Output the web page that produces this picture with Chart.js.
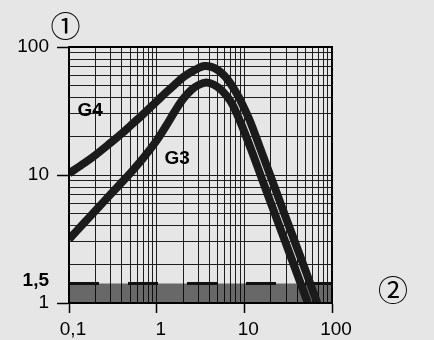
<!DOCTYPE html>
<html lang="en">
<head>
  <meta charset="UTF-8">
  <title>G3 / G4</title>
  <script src="https://cdn.jsdelivr.net/npm/chart.js"></script>
  <style>
    body {
      margin: 0;
      padding: 0;
      background: #e6e6e6;
    }
    #wrap {
      width: 434px;
      height: 340px;
      position: relative;
    }
  </style>
</head>
<body>

<div id="wrap">
  <canvas id="curveChart"></canvas>
</div>

<script>
  // curve G4
  const g4X = [0.1, 0.15, 0.2, 0.3, 0.4, 0.5, 0.7, 1, 1.3, 1.6, 2, 2.5, 3, 3.5, 4.2, 5, 6, 7, 8, 9, 11.5, 15, 20, 30, 40, 50, 68];
  const g4Y = [10.3, 12.4, 14.3, 17.9, 21.1, 24.2, 29.8, 37.6, 44.6, 50.7, 58, 64.1, 68.5, 71, 70, 66, 59, 51.5, 44.5, 38.4, 26.8, 16.5, 9.7, 4.57, 2.69, 1.78, 1];

  // curve G3
  const g3X = [0.1, 0.15, 0.2, 0.3, 0.4, 0.5, 0.7, 1, 1.3, 1.6, 2, 2.5, 3, 3.7, 4.5, 5.5, 7, 9, 12, 16, 22, 30, 40, 53];
  const g3Y = [3.15, 4.25, 5.26, 7.1, 8.77, 10.35, 13.5, 18.6, 24.6, 31.2, 39.2, 46.3, 50.5, 52.8, 50.7, 45.9, 37.5, 26, 15.7, 9.2, 5.1, 2.88, 1.69, 1];

  // limit band at the bottom
  const bandX = [0.1, 100];
  const bandY = [1.42, 1.42];

  // axes
  const xMajor = [0.1, 1, 10, 100];
  const xLabels = ['0,1', '1', '10', '100'];
  const yMajor = [1, 10, 100];
  const yLabels = ['1', '10', '100'];
  const yLimit = 1.5;
  const yLimitLabel = '1,5';

  const curveNames = ['G4', 'G3'];
  const nameAt = [[0.174, 32], [1.71, 13.3]];

  const INK = '#1b1b1b';
  const FONT = '"Liberation Sans", Arial, sans-serif';

  function toPoints(xs, ys) {
    return xs.map((x, i) => ({ x: x, y: ys[i] }));
  }

  // log grid: 1..9 in every decade
  function logTicks(lo, hi) {
    const out = [];
    for (let d = lo; d < hi * 0.999; d *= 10) {
      for (let m = 1; m <= 9; m++) out.push(+(m * d).toPrecision(3));
    }
    out.push(hi);
    return out;
  }

  function isIn(list, v) {
    return list.some(t => Math.abs(t - v) < 1e-9);
  }

  const extras = {
    id: 'extras',
    afterDraw(chart) {
      const { ctx, chartArea, scales } = chart;
      const xs = scales.x, ys = scales.y;
      ctx.save();
      // frame
      ctx.strokeStyle = '#000';
      ctx.lineWidth = 2;
      ctx.strokeRect(chartArea.left, chartArea.top, chartArea.right - chartArea.left, chartArea.bottom - chartArea.top);

      // curve names
      ctx.fillStyle = '#000';
      ctx.font = 'bold 19px ' + FONT;
      ctx.textAlign = 'center';
      ctx.textBaseline = 'middle';
      curveNames.forEach((n, i) => {
        ctx.fillText(n, xs.getPixelForValue(nameAt[i][0]), ys.getPixelForValue(nameAt[i][1]));
      });

      // axis markers
      ctx.font = '30px "Noto Sans CJK JP", "DejaVu Sans"';
      ctx.fillText('①', chartArea.left - 3.5, chartArea.top - 21);
      ctx.fillText('②', chartArea.right + 61, ys.getPixelForValue(bandY[0]) + 6);
      ctx.restore();
    }
  };

  const ctx = document.getElementById('curveChart').getContext('2d');

  new Chart(ctx, {
    type: 'line',
    data: {
      datasets: [
        {
          label: 'G4',
          data: toPoints(g4X, g4Y),
          borderColor: INK,
          borderWidth: 8,
          pointRadius: 0,
          tension: 0.35,
          borderCapStyle: 'butt',
          fill: false,
          clip: 0
        },
        {
          label: 'G3',
          data: toPoints(g3X, g3Y),
          borderColor: INK,
          borderWidth: 8,
          pointRadius: 0,
          tension: 0.35,
          borderCapStyle: 'butt',
          fill: false,
          clip: 0
        },
        {
          label: 'band',
          data: toPoints(bandX, bandY),
          borderColor: '#111',
          borderWidth: 3,
          borderDash: [30, 29],
          backgroundColor: 'rgba(0, 0, 0, 0.55)',
          pointRadius: 0,
          fill: 'start',
          clip: 0
        }
      ]
    },
    options: {
      responsive: true,
      maintainAspectRatio: false,
      animation: false,
      layout: { padding: { top: 47, right: 102, left: 0, bottom: 0 } },
      plugins: {
        legend: { display: false },
        tooltip: { enabled: false }
      },
      scales: {
        x: {
          type: 'logarithmic',
          min: 0.1,
          max: 100,
          afterBuildTicks(scale) {
            scale.ticks = logTicks(0.1, 100).map(v => ({ value: v }));
          },
          afterFit(scale) { scale.height = 37; },
          ticks: {
            autoSkip: false,
            maxRotation: 0,
            padding: 5,
            labelOffset: 4,
            color: '#000',
            font: { family: FONT, size: 19 },
            callback(v) {
              const i = xMajor.findIndex(t => Math.abs(t - v) < 1e-9);
              return i >= 0 ? xLabels[i] : '';
            }
          },
          grid: {
            color: '#1e1e1e',
            lineWidth: 1,
            tickLength: 10,
            tickColor: c => (c.tick && isIn(xMajor, c.tick.value)) ? '#000' : 'rgba(0,0,0,0)',
            tickWidth: 1.5
          },
          border: { color: '#000', width: 2 }
        },
        y: {
          type: 'logarithmic',
          min: 1,
          max: 100,
          afterBuildTicks(scale) {
            scale.ticks = logTicks(1, 100).concat([yLimit]).sort((a, b) => a - b).map(v => ({ value: v }));
          },
          afterFit(scale) { scale.width = 69; },
          ticks: {
            autoSkip: false,
            padding: 8,
            color: '#000',
            font: c => ({
              family: FONT,
              size: 19,
              weight: (c.tick && c.tick.value === yLimit) ? 'bold' : 'normal'
            }),
            callback(v) {
              if (v === yLimit) return yLimitLabel;
              const i = yMajor.findIndex(t => Math.abs(t - v) < 1e-9);
              return i >= 0 ? yLabels[i] : '';
            }
          },
          grid: {
            color: c => (c.tick && c.tick.value === yLimit) ? 'rgba(0,0,0,0)' : '#1e1e1e',
            lineWidth: 1,
            tickLength: 12,
            tickColor: c => (c.tick && isIn(yMajor, c.tick.value)) ? '#000' : 'rgba(0,0,0,0)',
            tickWidth: 1.5
          },
          border: { color: '#000', width: 2 }
        }
      }
    },
    plugins: [extras]
  });
</script>

</body>
</html>
